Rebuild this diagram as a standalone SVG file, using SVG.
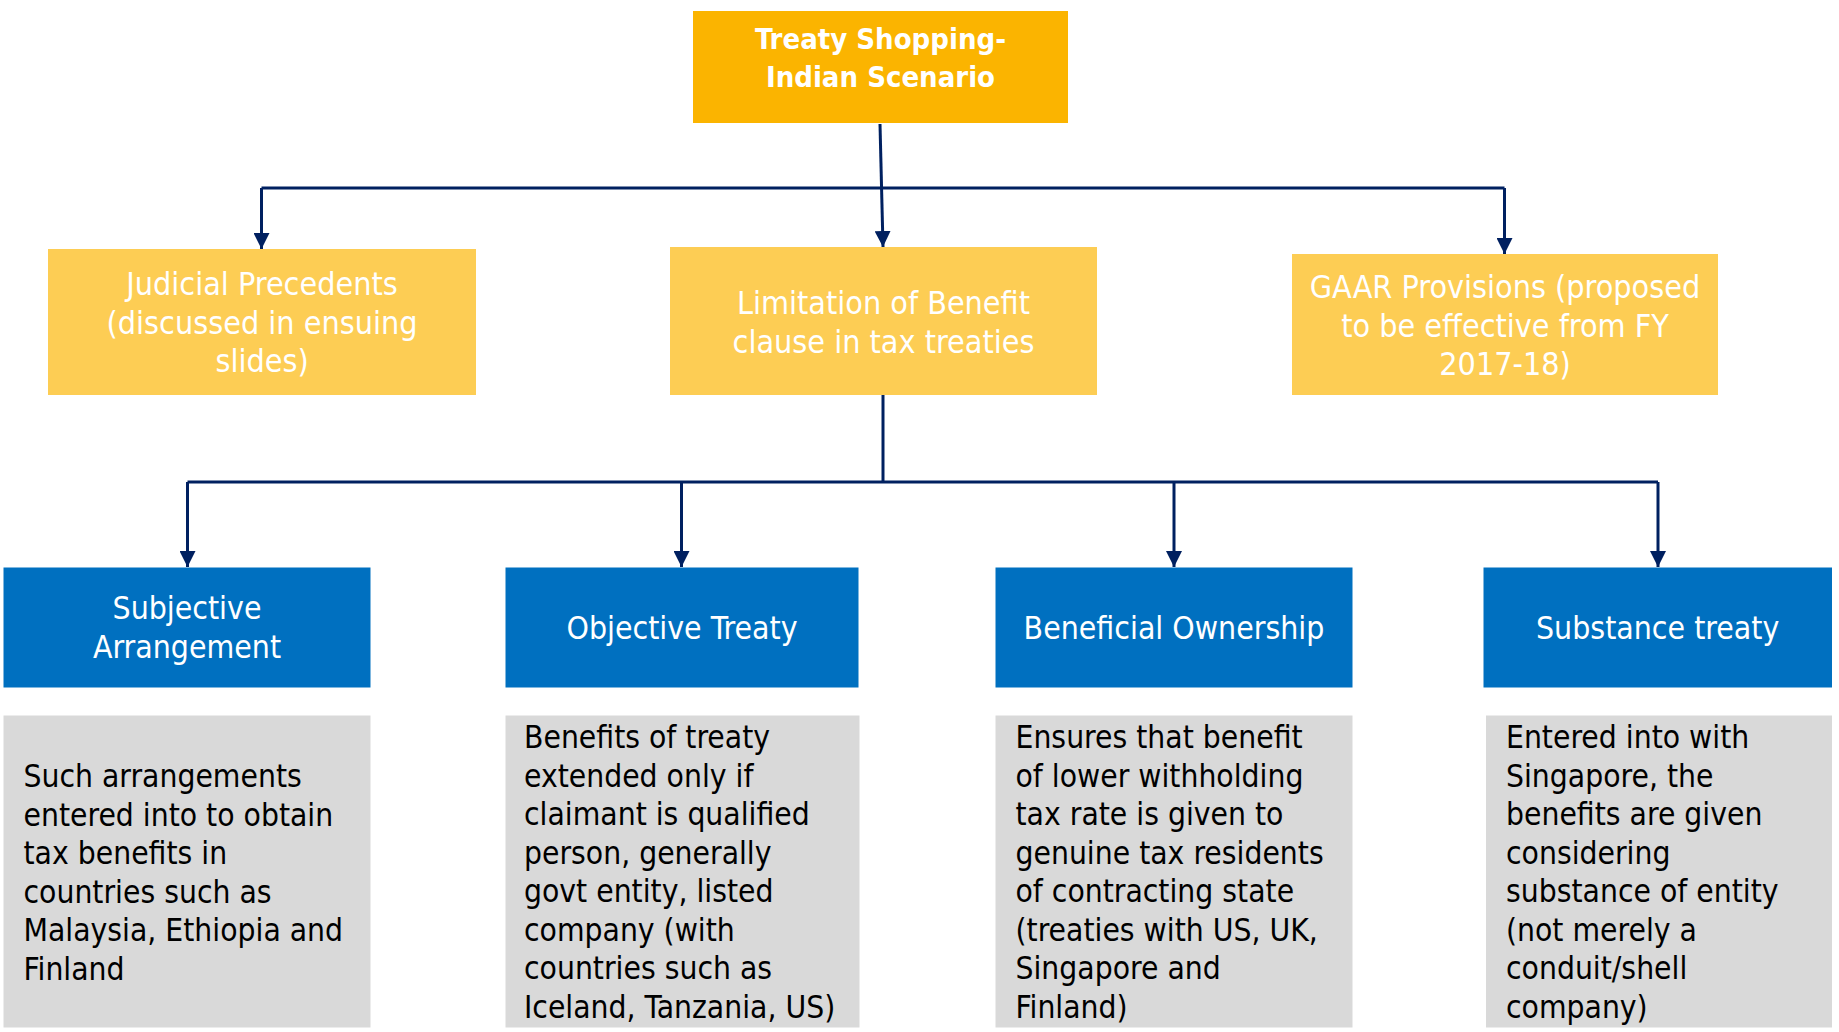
<svg xmlns="http://www.w3.org/2000/svg" width="1839" height="1032" viewBox="0 0 1839 1032">
  <style>
    text { font-family: 'DejaVu Sans Condensed', 'DejaVu Sans', sans-serif; font-stretch: condensed; font-size: 31.5px; }
    .top { fill: #FBB400; }
    .mid { fill: #FDCD54; }
    .blue { fill: #0070C0; }
    .note { fill: #D9D9D9; }
    .wc { fill: #FFFFFF; text-anchor: middle; }
    .lvl2 { font-size: 32px; }
    .lvl3 { font-size: 31.7px; }
    .bold { font-weight: bold; font-size: 29px; }
    .body { fill: #000000; }
    .link { fill: none; stroke: #002060; stroke-width: 3; }
  </style>
  <defs>
    <marker id="arrow" viewBox="0 0 16 16" markerWidth="16" markerHeight="16" refX="16" refY="8" orient="auto" markerUnits="userSpaceOnUse">
      <path d="M0,0 L16,8 L0,16 z" fill="#002060"/>
    </marker>
  </defs>

  <!-- connectors -->
  <g id="connectors">
    <path class="link" d="M880,124 L883,247" marker-end="url(#arrow)"/>
    <path class="link" d="M261.5,188 L1504.5,188"/>
    <path class="link" d="M261.5,188 L261.5,249" marker-end="url(#arrow)"/>
    <path class="link" d="M1504.5,188 L1504.5,254" marker-end="url(#arrow)"/>
    <path class="link" d="M883,395 L883,482"/>
    <path class="link" d="M187.5,482 L1658,482"/>
    <path class="link" d="M187.5,482 L187.5,567" marker-end="url(#arrow)"/>
    <path class="link" d="M681.5,482 L681.5,567" marker-end="url(#arrow)"/>
    <path class="link" d="M1174,482 L1174,567" marker-end="url(#arrow)"/>
    <path class="link" d="M1658,482 L1658,567" marker-end="url(#arrow)"/>
  </g>

  <!-- root -->
  <g id="treaty-shopping">
    <rect class="top" x="693" y="11" width="375" height="112"/>
    <text class="wc bold" x="880.5" y="49">Treaty Shopping-</text>
    <text class="wc bold" x="880.5" y="87">Indian Scenario</text>
  </g>

  <!-- second level -->
  <g id="judicial-precedents">
    <rect class="mid" x="48" y="249" width="428" height="146"/>
    <text class="wc lvl2" x="262" y="295">Judicial Precedents</text>
    <text class="wc lvl2" x="262" y="334">(discussed in ensuing</text>
    <text class="wc lvl2" x="262" y="372">slides)</text>
  </g>
  <g id="limitation-of-benefit">
    <rect class="mid" x="670" y="247" width="427" height="148"/>
    <text class="wc lvl2" x="883.5" y="314">Limitation of Benefit</text>
    <text class="wc lvl2" x="883.5" y="353">clause in tax treaties</text>
  </g>
  <g id="gaar-provisions">
    <rect class="mid" x="1292" y="254" width="426" height="141"/>
    <text class="wc lvl2" x="1505" y="298">GAAR Provisions (proposed</text>
    <text class="wc lvl2" x="1505" y="337">to be effective from FY</text>
    <text class="wc lvl2" x="1505" y="375">2017-18)</text>
  </g>

  <!-- third level -->
  <g id="subjective-arrangement">
    <rect class="blue" x="3.5" y="567.5" width="367" height="120"/>
    <text class="wc lvl3" x="187" y="619">Subjective</text>
    <text class="wc lvl3" x="187" y="658">Arrangement</text>
  </g>
  <g id="objective-treaty">
    <rect class="blue" x="505.5" y="567.5" width="353" height="120"/>
    <text class="wc lvl3" x="682" y="639">Objective Treaty</text>
  </g>
  <g id="beneficial-ownership">
    <rect class="blue" x="995.5" y="567.5" width="357" height="120"/>
    <text class="wc lvl3" x="1174" y="639">Beneficial Ownership</text>
  </g>
  <g id="substance-treaty">
    <rect class="blue" x="1483.5" y="567.5" width="348.5" height="120"/>
    <text class="wc lvl3" x="1657.7" y="639">Substance treaty</text>
  </g>

  <!-- descriptions -->
  <g id="subjective-note">
    <rect class="note" x="3.5" y="715.5" width="367" height="312"/>
    <text class="body">
      <tspan x="23.5" y="787">Such arrangements</tspan>
      <tspan x="23.5" y="825.5">entered into to obtain</tspan>
      <tspan x="23.5" y="864">tax benefits in</tspan>
      <tspan x="23.5" y="902.5">countries such as</tspan>
      <tspan x="23.5" y="941">Malaysia, Ethiopia and</tspan>
      <tspan x="23.5" y="979.5">Finland</tspan>
    </text>
  </g>
  <g id="objective-note">
    <rect class="note" x="505.5" y="715.5" width="354" height="312"/>
    <text class="body">
      <tspan x="524" y="748">Benefits of treaty</tspan>
      <tspan x="524" y="786.5">extended only if</tspan>
      <tspan x="524" y="825">claimant is qualified</tspan>
      <tspan x="524" y="863.5">person, generally</tspan>
      <tspan x="524" y="902">govt entity, listed</tspan>
      <tspan x="524" y="940.5">company (with</tspan>
      <tspan x="524" y="979">countries such as</tspan>
      <tspan x="524" y="1017.5">Iceland, Tanzania, US)</tspan>
    </text>
  </g>
  <g id="beneficial-note">
    <rect class="note" x="995.5" y="715.5" width="357" height="312"/>
    <text class="body">
      <tspan x="1015.5" y="748">Ensures that benefit</tspan>
      <tspan x="1015.5" y="786.5">of lower withholding</tspan>
      <tspan x="1015.5" y="825">tax rate is given to</tspan>
      <tspan x="1015.5" y="863.5">genuine tax residents</tspan>
      <tspan x="1015.5" y="902">of contracting state</tspan>
      <tspan x="1015.5" y="940.5">(treaties with US, UK,</tspan>
      <tspan x="1015.5" y="979">Singapore and</tspan>
      <tspan x="1015.5" y="1017.5">Finland)</tspan>
    </text>
  </g>
  <g id="substance-note">
    <rect class="note" x="1486" y="715.5" width="346" height="312"/>
    <text class="body">
      <tspan x="1506" y="748">Entered into with</tspan>
      <tspan x="1506" y="786.5">Singapore, the</tspan>
      <tspan x="1506" y="825">benefits are given</tspan>
      <tspan x="1506" y="863.5">considering</tspan>
      <tspan x="1506" y="902">substance of entity</tspan>
      <tspan x="1506" y="940.5">(not merely a</tspan>
      <tspan x="1506" y="979">conduit/shell</tspan>
      <tspan x="1506" y="1017.5">company)</tspan>
    </text>
  </g>
</svg>
